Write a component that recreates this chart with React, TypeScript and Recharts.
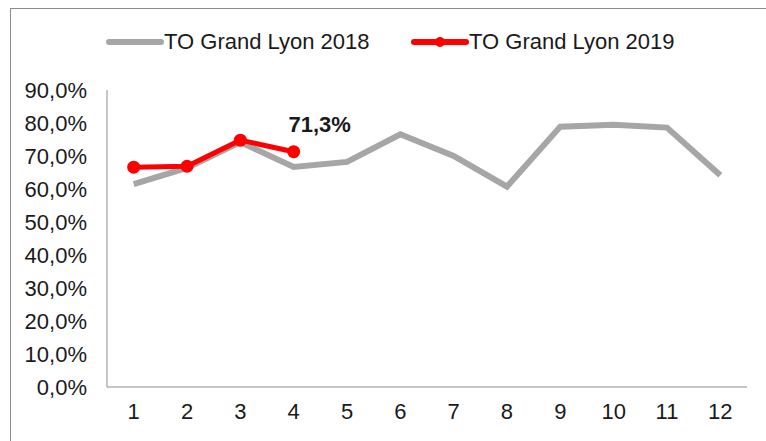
import { LineChart, Line, XAxis, YAxis, Legend, LabelList } from "recharts";

const months = ["1", "2", "3", "4", "5", "6", "7", "8", "9", "10", "11", "12"];
const to2018 = [61.5, 66.4, 74.2, 66.7, 68.2, 76.6, 70.0, 60.7, 78.9, 79.5, 78.6, 64.2];
const to2019 = [66.6, 66.9, 74.8, 71.3];
const yTicks = [0, 10, 20, 30, 40, 50, 60, 70, 80, 90];

const GRAY = "#a6a6a6";
const RED = "#ff0000";
const AXIS = "#8c8c8c";
const TEXT = "#1a1a1a";
const FONT = '"Liberation Sans", Arial, sans-serif';
const FS = 22;

const data = months.map((m, i) => ({
  month: m,
  y2018: to2018[i],
  y2019: i < to2019.length ? to2019[i] : null,
}));

const pct = (v: number) => v.toFixed(1).replace(".", ",") + "%";

function LegendBox() {
  const item = (left: number, color: string, label: string, dot: boolean) => (
    <div style={{ position: "absolute", left, top: 0, display: "flex", alignItems: "center" }}>
      <svg width={58} height={20}>
        <line x1={3} y1={10} x2={55} y2={10} stroke={color} strokeWidth={6} strokeLinecap="round" />
        {dot && <circle cx={29} cy={10} r={5} fill={color} />}
      </svg>
      <span style={{ fontSize: FS, color: TEXT, fontFamily: FONT, whiteSpace: "nowrap" }}>{label}</span>
    </div>
  );
  return (
    <div style={{ position: "relative", width: 766, height: 30 }}>
      {item(106, GRAY, "TO Grand Lyon 2018", false)}
      {item(411, RED, "TO Grand Lyon 2019", true)}
    </div>
  );
}

const PeakLabel = (props: any) => {
  const { x, y, index, value } = props;
  if (index !== 3 || value == null) return null;
  return (
    <text
      x={x + 26}
      y={y - 27}
      textAnchor="middle"
      dominantBaseline="central"
      fontSize={FS}
      fontWeight="bold"
      fontFamily={FONT}
      fill={TEXT}
    >
      {pct(value)}
    </text>
  );
};

export default function App() {
  return (
    <div style={{ position: "absolute", left: 0, top: 0, width: 766, height: 441, overflow: "hidden", background: "#fff" }}>
      <div
        style={{
          position: "absolute",
          left: 10,
          top: 8,
          width: 800,
          height: 500,
          borderLeft: "1px solid #8c8c8c",
          borderTop: "1px solid #8c8c8c",
        }}
      />
      <LineChart
        width={766}
        height={441}
        data={data}
        margin={{ top: 90, right: 19, bottom: 24, left: 0 }}
        style={{ position: "absolute", left: 0, top: 0, fontFamily: FONT }}
      >
        <XAxis
          dataKey="month"
          height={30}
          padding={{ left: 26.7, right: 26.7 }}
          axisLine={{ stroke: AXIS, strokeWidth: 1 }}
          tickLine={false}
          tickSize={0}
          tickMargin={16}
          tick={{ fontSize: FS, fill: TEXT, fontFamily: FONT }}
          interval={0}
        />
        <YAxis
          width={107}
          domain={[0, 90]}
          ticks={yTicks}
          tickFormatter={pct}
          axisLine={{ stroke: AXIS, strokeWidth: 1 }}
          tickLine={false}
          tickSize={0}
          tickMargin={20}
          tick={{ fontSize: FS, fill: TEXT, fontFamily: FONT }}
          interval={0}
        />
        <Legend
          verticalAlign="middle"
          align="center"
          content={() => <LegendBox />}
          wrapperStyle={{ top: 29, left: 0, width: 766 }}
        />
        <Line
          dataKey="y2018"
          name="TO Grand Lyon 2018"
          stroke={GRAY}
          strokeWidth={6}
          dot={false}
          isAnimationActive={false}
        />
        <Line
          dataKey="y2019"
          name="TO Grand Lyon 2019"
          stroke={RED}
          strokeWidth={5}
          dot={{ r: 6.5, fill: RED, stroke: RED, strokeWidth: 0 }}
          activeDot={false}
          isAnimationActive={false}
        >
          <LabelList dataKey="y2019" content={PeakLabel} />
        </Line>
      </LineChart>
    </div>
  );
}
